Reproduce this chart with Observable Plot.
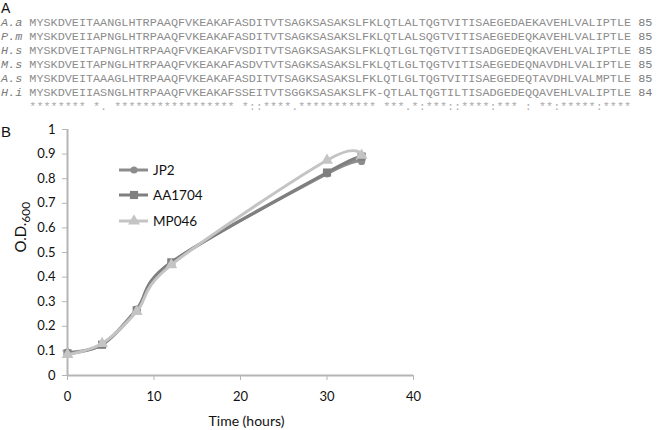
<!DOCTYPE html>
<html><head><meta charset="utf-8">
<script src="https://cdn.jsdelivr.net/npm/d3@7"></script>
<script src="https://cdn.jsdelivr.net/npm/@observablehq/plot@0.6"></script>
<style>
body{margin:0;background:#fff;}
#wrap{position:relative;width:664px;height:430px;overflow:hidden;}
.panel{position:absolute;font-family:"Liberation Sans",Arial,sans-serif;font-size:14px;line-height:14px;color:#111;}
#align{position:absolute;left:1px;top:16px;font-family:"Liberation Mono",monospace;font-size:11.8px;line-height:14px;white-space:pre;color:#8c8c8c;}
#align .nm{font-style:italic;color:#7a7a7a;}
#align .ct{color:#7a7a7a;}
#align .cons{color:#ababab;}
#chart{position:absolute;left:0;top:110px;}
#legend{position:absolute;left:119px;top:157px;font-family:Lato,sans-serif;font-size:13.5px;color:#111;}
#legend .row{display:flex;align-items:center;height:25.5px;}
#legend svg{margin-right:3px;}
</style>
</head><body>
<div id="wrap">
  <div class="panel" style="left:1px;top:1px;">A</div>
  <div id="align"></div>
  <div class="panel" style="left:1px;top:125px;font-size:15px;">B</div>
  <div id="chart"></div>
  <div id="legend"></div>
</div>
<script>
// ---- Panel A: alignment ----
const seqNames = ["A.a", "P.m", "H.s", "M.s", "A.s", "H.i"];
const seqs = [
  "MYSKDVEITAANGLHTRPAAQFVKEAKAFASDITVTSAGKSASAKSLFKLQTLALTQGTVITISAEGEDAEKAVEHLVALIPTLE",
  "MYSKDVEIIAPNGLHTRPAAQFVKEAKAFASDITVTSAGKSASAKSLFKLQTLALSQGTVITISAEGEDEQKAVEHLVALIPTLE",
  "MYSKDVEITAPNGLHTRPAAQFVKEAKAFVSDITVTSAGKSASAKSLFKLQTLGLTQGTVITISADGEDEQKAVEHLVALIPTLE",
  "MYSKDVEITAPNGLHTRPAAQFVKEAKAFASDVTVTSAGKSASAKSLFKLQTLGLTQGTVITISAEGEDEQNAVDHLVALIPTLE",
  "MYSKDVEITAAAGLHTRPAAQFVKEAKAFASDITVTSAGKSASAKSLFKLQTLGLTQGTVITISAEGEDEQTAVDHLVALMPTLE",
  "MYSKDVEIIASNGLHTRPAAQFVKEAKAFSSEITVTSGGKSASAKSLFK-QTLALTQGTILTISADGEDEQQAVEHLVALIPTLE"
];
const seqCounts = ["85", "85", "85", "85", "85", "84"];
const consensus = "******** *. " + "*****************" + " *::****.***********" + " ***.*:***::****:***" + " : **:*****:****";

// ---- Panel B: growth curves ----
const times = [0, 4, 8, 12, 30, 34];
const seriesNames = ["JP2", "AA1704", "MP046"];
const jp2 = [0.095, 0.125, 0.27, 0.46, 0.82, 0.87];
const aa1704 = [0.09, 0.125, 0.265, 0.46, 0.825, 0.89];
const mp046 = [0.085, 0.13, 0.26, 0.45, 0.875, 0.895];
const xTicks = [0, 10, 20, 30, 40];
const yTicks = [0, 0.1, 0.2, 0.3, 0.4, 0.5, 0.6, 0.7, 0.8, 0.9, 1];
const yTickLabels = ["0", "0.1", "0.2", "0.3", "0.4", "0.5", "0.6", "0.7", "0.8", "0.9", "1"];
const xLabel = "Time (hours)";
const yLabel = "O.D.600";

// styles
const styles = {
  JP2: {color: "#8c8c8c", symbol: "circle", r: 3.6},
  AA1704: {color: "#7f7f7f", symbol: "square", r: 4.6},
  MP046: {color: "#c4c4c4", symbol: "triangle", r: 4.4}
};

// build alignment text
const al = d3.select("#align");
seqNames.forEach((n, i) => {
  const line = al.append("div");
  line.append("span").attr("class", "nm").text(n);
  line.append("span").text(" " + seqs[i] + " ");
  line.append("span").attr("class", "ct").text(seqCounts[i]);
});
al.append("div").attr("class", "cons").text("    " + consensus);

// table
const valuesBySeries = [jp2, aa1704, mp046];
const table = [];
seriesNames.forEach((s, si) => times.forEach((t, i) => table.push({series: s, time: t, od: valuesBySeries[si][i]})));

const marks = [
  Plot.ruleX([0], {stroke: "#b5b5b5", strokeWidth: 2}),
  Plot.ruleY([0], {stroke: "#b5b5b5", strokeWidth: 2}),
  Plot.axisY({ticks: yTicks, tickFormat: (d, i) => yTickLabels[i], tickSize: 5, tickPadding: 7, stroke: "#b5b5b5", fill: "#111", label: null}),
  Plot.axisX({ticks: xTicks, tickFormat: d => String(d), tickSize: 5, tickPadding: 11, stroke: "#b5b5b5", fill: "#111", label: null}),
  Plot.text([xLabel], {text: d => d, frameAnchor: "bottom", dy: 46, dx: 6, lineAnchor: "middle", fontSize: 14, fill: "#111"}),
  Plot.text([yLabel], {text: d => d, frameAnchor: "left", dx: -46, rotate: -90, fontSize: 15, fill: "#111"})
];
seriesNames.forEach(s => {
  const st = styles[s];
  const data = table.filter(d => d.series === s);
  marks.push(Plot.line(data, {x: "time", y: "od", stroke: st.color, strokeWidth: 3, curve: "cardinal", tension: 0}));
  marks.push(Plot.dot(data, {x: "time", y: "od", symbol: () => st.symbol, r: st.r, fill: st.color, stroke: "none"}));
});

const chart = Plot.plot({
  width: 664,
  height: 320,
  marginLeft: 67,
  marginRight: 251,
  marginTop: 19,
  marginBottom: 55,
  x: {domain: [0, 40]},
  y: {domain: [0, 1]},
  symbol: {type: "identity"},
  style: {fontFamily: "Lato, sans-serif", fontSize: "13px", background: "transparent", color: "#111"},
  marks
});
document.getElementById("chart").appendChild(chart);

// subscript for y label
d3.select(chart).selectAll("text").filter(function() { return this.textContent === yLabel; }).each(function() {
  const t = d3.select(this);
  const tgt = t.selectAll("tspan").empty() ? t : t.select("tspan");
  tgt.text("O.D.");
  tgt.append("tspan").attr("font-size", "12px").attr("dy", "0.3em").text("600");
});

// legend
const lg = d3.select("#legend");
seriesNames.forEach(s => {
  const st = styles[s];
  const row = lg.append("div").attr("class", "row");
  const svg = row.append("svg").attr("width", 31).attr("height", 14);
  svg.append("line").attr("x1", 0).attr("x2", 29).attr("y1", 7).attr("y2", 7).attr("stroke", st.color).attr("stroke-width", 3);
  const sym = {circle: d3.symbolCircle, square: d3.symbolSquare, triangle: d3.symbolTriangle}[st.symbol];
  svg.append("path").attr("transform", "translate(15,7)").attr("d", d3.symbol(sym, Math.PI * st.r * st.r)()).attr("fill", st.color);
  row.append("span").text(s);
});
</script>
</body></html>
